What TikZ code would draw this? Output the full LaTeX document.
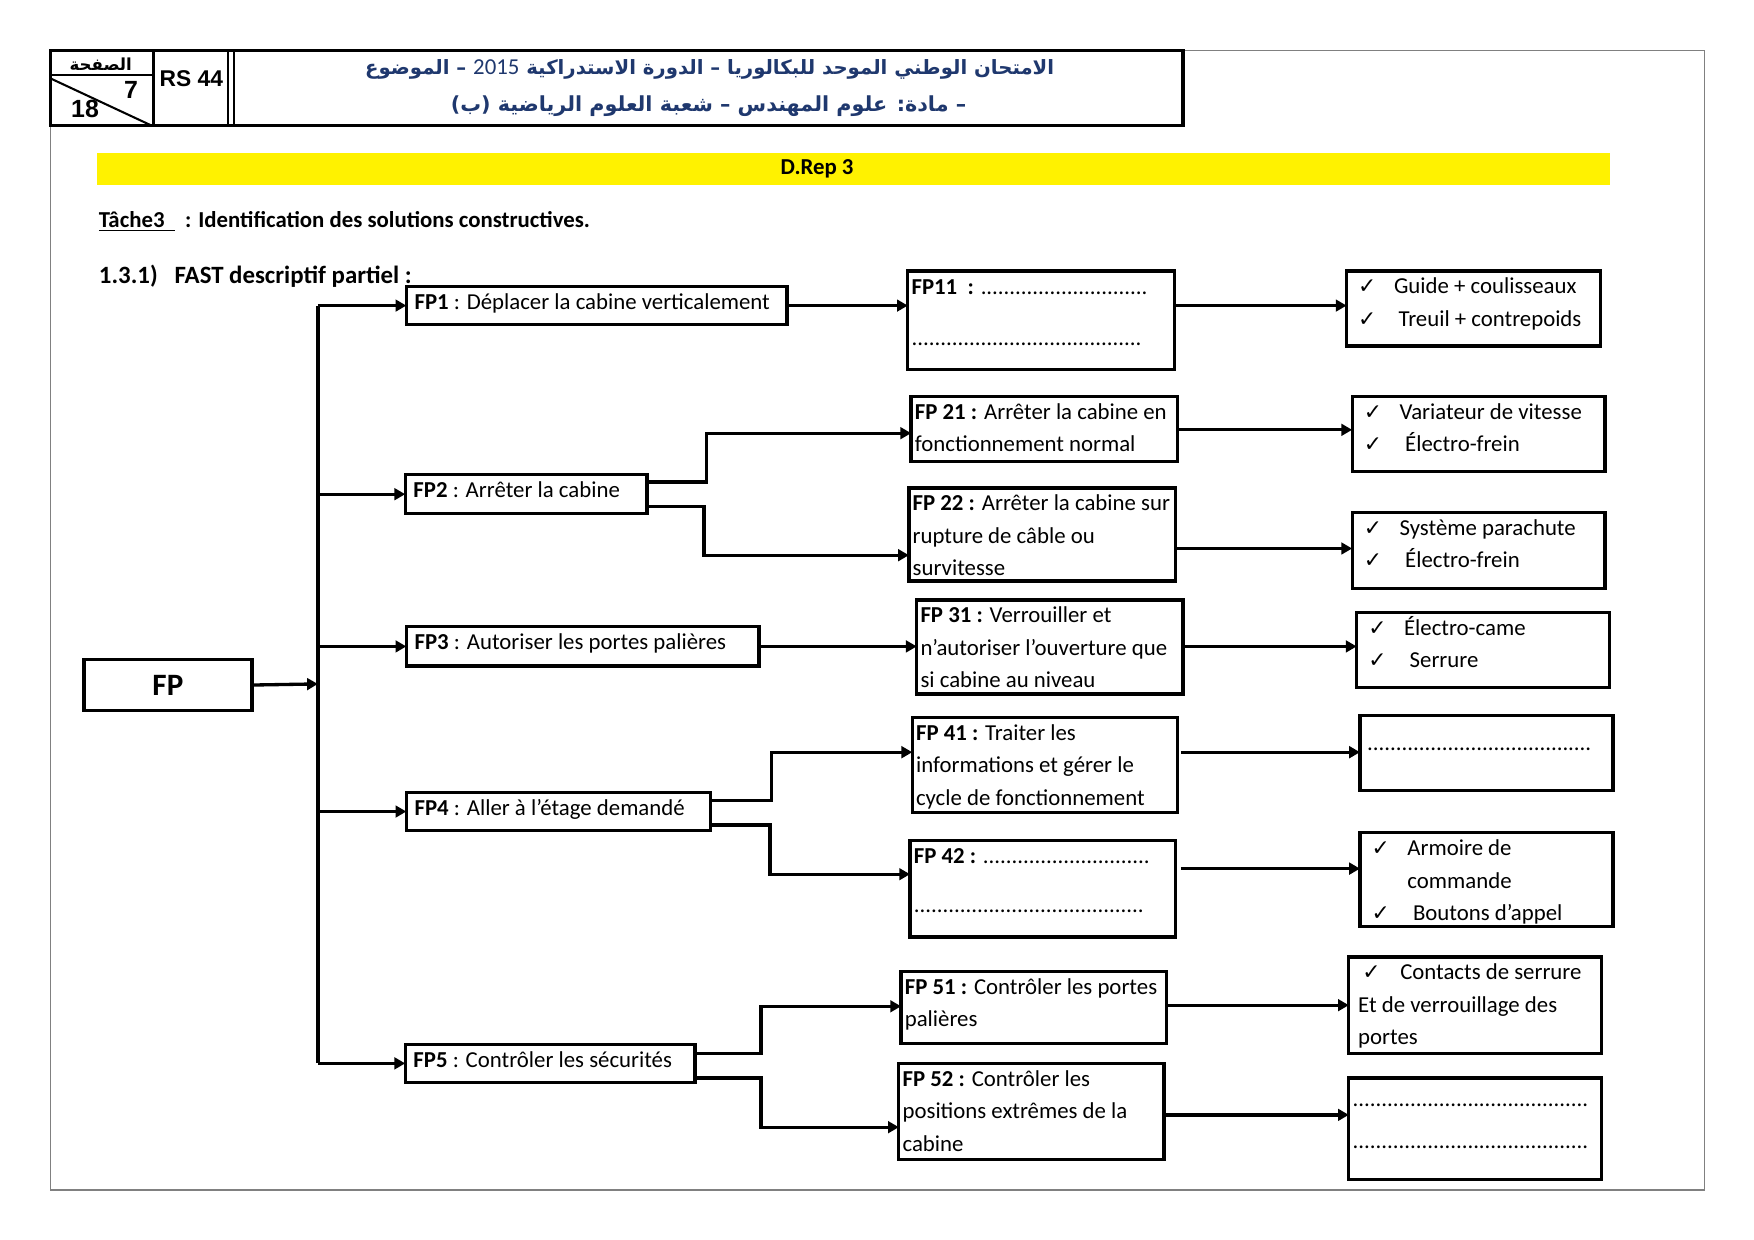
\documentclass[tikz,border=0pt]{standalone}
\usepackage{fontspec}
\setmainfont{Carlito}
\newfontfamily\dejavu{DejaVu Sans}
\newfontfamily\arabicfont[Script=Arabic]{DejaVu Sans}
\newfontfamily\arialfont{Liberation Sans}
\TeXXeTstate=1
\usetikzlibrary{arrows.meta,calc}
\definecolor{hdrblue}{RGB}{31,56,110}
\newcommand\ck{\makebox[17.3pt][l]{\dejavu\fontsize{10.5}{10}\selectfont ✓}}
\newcommand\stt{\rule{0pt}{10.8pt}}
\newcommand\bx[5]{\node[box,minimum width={(#4-#2)*0.54pt},minimum height={(#5-#3)*0.54pt}] (#1) at (#2,#3) {};}
\begin{document}
\begin{tikzpicture}[x=0.54pt,y=-0.54pt,
  box/.style={draw,line width=1.6pt,rectangle,inner sep=0pt,outer sep=0pt,anchor=north west},
  txt/.style={inner sep=0pt,anchor=north west,align=left,font=\fontsize{11}{15.65}\selectfont},
  conn/.style={line width=1.6pt},
  arr/.style={conn,-{Triangle[length=5.2pt,width=5.6pt]}},
  hdr/.style={line width=1.6pt}]
\useasboundingbox (0,0) rectangle (1567,1107.5);
% page frame
\draw[gray,line width=0.7pt] (45,45) rectangle (1523,1063);
% header
\fill[white] (45,45) rectangle (1057,112);
\draw[hdr] (45,45) rectangle (1057,112);
\draw[hdr] (137,45) -- (137,112);
\draw[line width=1.1pt] (204,45) -- (204,112);
\draw[line width=1.1pt] (209,45) -- (209,112);
\draw[line width=1.2pt] (45,67) -- (137,67);
\draw[line width=1pt] (45,70) -- (135,112);
\node[inner sep=0pt,font=\arabicfont\bfseries\fontsize{8}{9}\selectfont] (page) at (90,57) {\beginR الصفحة\endR};
\node[inner sep=0pt,font=\arialfont\bfseries\fontsize{12}{13}\selectfont] (pnum) at (117,80) {7};
\node[inner sep=0pt,font=\arialfont\bfseries\fontsize{12}{13}\selectfont] (ptot) at (76,97) {18};
\node[inner sep=0pt,font=\arialfont\bfseries\fontsize{11}{12}\selectfont] (rs) at (171,70) {RS 44};
\node[inner sep=0pt,text=hdrblue,font=\arabicfont\bfseries\fontsize{9.5}{12}\selectfont] (title1) at (634,62)
  {\beginR الامتحان الوطني الموحد للبكالوريا – الدورة الاستدراكية \beginL{\rmfamily\mdseries\fontsize{11}{12}\selectfont 2015}\endL{} – الموضوع\endR};
\node[inner sep=0pt,text=hdrblue,font=\arabicfont\bfseries\fontsize{10}{12}\selectfont] (title2) at (633,95)
  {\beginR – مادة: علوم المهندس – شعبة العلوم الرياضية (ب)\endR};
% yellow bar
\fill[yellow] (87,137) rectangle (1438,165);
\node[inner sep=0pt,font=\bfseries\fontsize{11}{13}\selectfont] (drep) at (730,151) {D.Rep 3};
\node[inner sep=0pt,anchor=base west,font=\bfseries\fontsize{11}{13}\selectfont] (tache) at (88,203)
  {\underline{Tâche3\ \ }\ \ : Identification des solutions constructives.};
\node[inner sep=0pt,anchor=base west,font=\bfseries\fontsize{12}{14}\selectfont] (fast) at (88,253)
  {1.3.1)\ \ \ FAST descriptif partiel :};
% FP
\bx{fp}{75}{589}{225}{635}
\node[inner sep=0pt,font=\bfseries\fontsize{15}{17}\selectfont] (fpt) at (fp.center) {FP};
% level 1
\bx{fp1}{363}{256}{703}{290}
\bx{fp2}{362}{424}{578}{459}
\bx{fp3}{363}{560}{678}{595}
\bx{fp4}{363}{708}{635}{742}
\bx{fp5}{362}{933}{621}{967}
\node[txt] (fp1t) at ($(fp1.north west)+(7,0)$) {\stt\textbf{FP1} : Déplacer la cabine verticalement};
\node[txt] (fp2t) at ($(fp2.north west)+(7,0)$) {\stt\textbf{FP2} : Arrêter la cabine};
\node[txt] (fp3t) at ($(fp3.north west)+(7,0)$) {\stt\textbf{FP3} : Autoriser les portes palières};
\node[txt] (fp4t) at ($(fp4.north west)+(7,0)$) {\stt\textbf{FP4} : Aller à l’étage demandé};
\node[txt] (fp5t) at ($(fp5.north west)+(7,0)$) {\stt\textbf{FP5} : Contrôler les sécurités};
% level 2
\bx{fp11}{811}{242}{1049}{330}
\bx{fp21}{814}{354}{1052}{412}
\bx{fp22}{812}{436}{1050}{519}
\bx{fp31}{819}{536}{1057}{620}
\bx{fp41}{815}{641}{1052}{726}
\bx{fp42}{813}{751}{1050}{837}
\bx{fp51}{805}{868}{1042}{932}
\bx{fp52}{803}{950}{1040}{1036}
\node[txt] (fp11t) at ($(fp11.north west)+(3,1)$) {\stt\textbf{FP11\ \ :} .............................\\[8.6pt]........................................};
\node[txt] (fp21t) at ($(fp21.north west)+(3,0)$) {\stt\textbf{FP 21 :} Arrêter la cabine en\\fonctionnement normal};
\node[txt] (fp22t) at ($(fp22.north west)+(3,0)$) {\stt\textbf{FP 22 :} Arrêter la cabine sur\\rupture de câble ou\\survitesse};
\node[txt] (fp31t) at ($(fp31.north west)+(3,0)$) {\stt\textbf{FP 31 :} Verrouiller et\\n’autoriser l’ouverture que\\si cabine au niveau};
\node[txt] (fp41t) at ($(fp41.north west)+(3,0)$) {\stt\textbf{FP 41 :} Traiter les\\informations et gérer le\\cycle de fonctionnement};
\node[txt] (fp42t) at ($(fp42.north west)+(3,0)$) {\stt\textbf{FP 42 :} .............................\\[8.1pt]........................................};
\node[txt] (fp51t) at ($(fp51.north west)+(3,0)$) {\stt\textbf{FP 51 :} Contrôler les portes\\palières};
\node[txt] (fp52t) at ($(fp52.north west)+(3,0)$) {\stt\textbf{FP 52 :} Contrôler les\\positions extrêmes de la\\cabine};
% level 3
\bx{s1}{1203}{242}{1430}{309}
\bx{s21}{1208}{354}{1434}{421}
\bx{s22}{1208}{458}{1434}{526}
\bx{s3}{1212}{547}{1438}{614}
\bx{s41}{1215}{639}{1441}{706}
\bx{s42}{1215}{744}{1441}{828}
\bx{s51}{1205}{855}{1431}{941}
\bx{s52}{1205}{963}{1431}{1054}
\node[txt] (s1t) at ($(s1.north west)+(10,0)$) {\stt\ck Guide + coulisseaux\\\ck\hspace{2.2pt}Treuil + contrepoids};
\node[txt] (s21t) at ($(s21.north west)+(10,0)$) {\stt\ck Variateur de vitesse\\\ck\hspace{2.7pt}Électro-frein};
\node[txt] (s22t) at ($(s22.north west)+(10,0)$) {\stt\ck Système parachute\\\ck\hspace{2.7pt}Électro-frein};
\node[txt] (s3t) at ($(s3.north west)+(10,0)$) {\stt\ck Électro-came\\\ck\hspace{2.7pt}Serrure};
\node[txt] (s41t) at ($(s41.north west)+(6,11)$) {\stt.......................................};
\node[txt] (s42t) at ($(s42.north west)+(10,0)$) {\stt\ck Armoire de\\\hspace{17.3pt}commande\\\ck\hspace{2.7pt}Boutons d’appel};
\node[txt] (s51t) at ($(s51.north west)+(8,0)$) {\stt\hspace{2pt}\ck\hspace{1pt}Contacts de serrure\\Et de verrouillage des\\portes};
\node[txt] (s52t) at ($(s52.north west)+(3,5)$) {\stt.........................................\\[4.9pt].........................................};
% connectors
\coordinate (bus) at (284,611);
\draw[arr] (fp.east) -- (bus);
\draw[conn] (bus |- fp1.west) -- (bus |- fp5.west);
\foreach \n in {fp1,fp2,fp3,fp4,fp5} \draw[arr] (bus |- \n.west) -- (\n.west);
\draw[arr] (fp1.east) -- (fp1.east -| fp11.west);
\draw[arr] (fp11.east |- fp1.east) -- (s1.west |- fp1.east);
\coordinate (j2) at (631,0);
\draw[arr] ($(fp2.east)+(0,-11)$) -| (j2 |- 0,387) -- (fp21.west |- 0,387);
\draw[arr] ($(fp2.east)+(0,11)$) -| ($(j2 |- 0,496)+(-2,0)$) -- (fp22.west |- 0,496);
\draw[arr] (fp21.east |- 0,384) -- (s21.west |- 0,384);
\draw[arr] (fp22.east |- 0,490) -- (s22.west |- 0,490);
\draw[arr] (fp3.east) -- (fp3.east -| fp31.west);
\draw[arr] (fp31.east |- fp3.east) -- (s3.west |- fp3.east);
\coordinate (j4) at (689,0);
\draw[arr] ($(fp4.east)+(0,-10)$) -| (j4 |- 0,672) -- (fp41.west |- 0,672);
\draw[arr] ($(fp4.east)+(0,12)$) -| ($(j4 |- 0,781)+(-1,0)$) -- (fp42.west |- 0,781);
\draw[arr] ($(fp41.east |- 0,672)+(3,0)$) -- (s41.west |- 0,672);
\draw[arr] ($(fp42.east |- 0,776)+(5,0)$) -- (s42.west |- 0,776);
\coordinate (j5) at (680,0);
\draw[arr] ($(fp5.east)+(0,-9)$) -| (j5 |- 0,899) -- (fp51.west |- 0,899);
\draw[arr] ($(fp5.east)+(0,13)$) -| (j5 |- 0,1007) -- (fp52.west |- 0,1007);
\draw[arr] (fp51.east |- 0,898) -- (s51.west |- 0,898);
\draw[arr] ($(fp52.east |- 0,996)+(2,0)$) -- (s52.west |- 0,996);
\end{tikzpicture}
\end{document}
